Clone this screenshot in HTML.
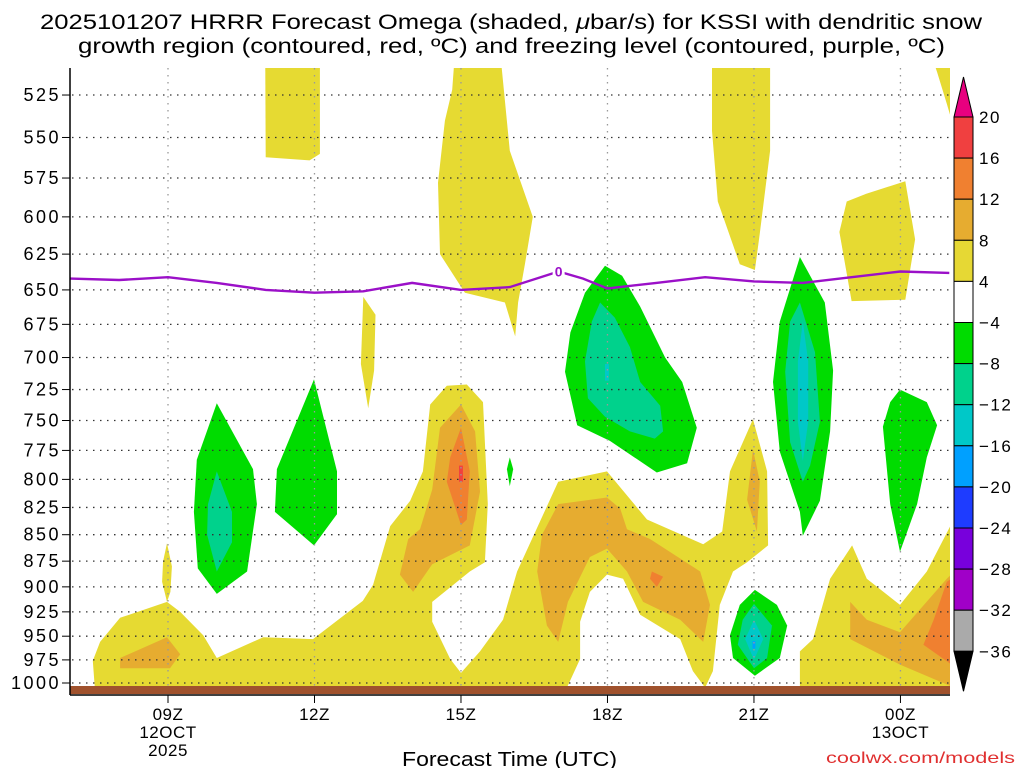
<!DOCTYPE html>
<html><head><meta charset="utf-8"><style>
body{margin:0;background:#fff;width:1024px;height:768px;overflow:hidden}
svg{display:block;font-family:"Liberation Sans","DejaVu Sans",sans-serif}
</style></head><body>
<svg id="chart" width="1024" height="768" viewBox="0 0 1024 768" xmlns="http://www.w3.org/2000/svg">
<text x="40" y="29" font-size="21" textLength="942" lengthAdjust="spacingAndGlyphs">2025101207 HRRR Forecast Omega (shaded, <tspan font-style="italic">μ</tspan>bar/s) for KSSI with dendritic snow</text>
<text x="78" y="53" font-size="21" textLength="867" lengthAdjust="spacingAndGlyphs">growth region (contoured, red, ºC) and freezing level (contoured, purple, ºC)</text>
<defs><clipPath id="plotclip"><rect x="70" y="68" width="880" height="627"/></clipPath></defs>
<g id="fills" clip-path="url(#plotclip)"></g>
<g id="grid"></g>
<g id="lines" clip-path="url(#plotclip)"></g>
<rect x="70" y="686" width="880" height="8" fill="#a0522d"/>
<line x1="70" y1="68" x2="70" y2="695" stroke="#000" stroke-width="1.5"/>
<line x1="70" y1="695" x2="950" y2="695" stroke="#000" stroke-width="1.5"/>
<g id="axes"></g>
<g id="cbar"></g>
<text x="402" y="766" font-size="20" textLength="215" lengthAdjust="spacingAndGlyphs">Forecast Time (UTC)</text>
<text x="826" y="763" font-size="16" textLength="189" lengthAdjust="spacingAndGlyphs" fill="#e03030">coolwx.com/models</text>
</svg>
<script>
const pressureTicks=[525,550,575,600,625,650,675,700,725,750,775,800,825,850,875,900,925,950,975,1000];
const hourTicks=[9,12,15,18,21,24];
const hourLabels=["09Z","12Z","15Z","18Z","21Z","00Z"];
const hourSub=["12OCT","","","","","13OCT"];
const hourSub2=["2025","","","","",""];
const cbarLevels=[20,16,12,8,4,-4,-8,-12,-16,-20,-24,-28,-32,-36];
const cbarColors=["#f04040","#f08030","#e6ac30","#e6d834","#ffffff","#00dc00","#00d28c","#00c8c8","#00a0ff","#1e3cff","#7800dc","#a000c8","#aaaaaa"];
const yellowA=[[7.5,1005],[7.46,976],[7.61,956],[8.02,931],[8.98,915],[9.25,925],[9.72,949],[10.0,973],[10.95,951],[11.97,953],[12.99,914],[13.2,898],[13.55,842],[13.96,819],[14.22,793],[14.37,737],[14.71,722],[15.12,721],[15.45,735],[15.55,822],[15.49,876],[15.18,885],[14.41,915],[14.41,935],[14.78,974],[15.0,989],[15.39,966],[15.86,933],[16.15,885],[16.99,802],[17.99,793],[18.81,836],[19.96,859],[20.35,847],[20.51,793],[20.98,749],[21.27,793],[21.29,860],[20.86,876],[20.57,885],[20.3,918],[20.16,987],[20.0,1005],[19.75,987],[19.49,953],[18.67,928],[18.32,892],[17.99,888],[17.64,905],[17.44,935],[17.44,974],[17.17,1005]];
const yellowB=[[21.94,1005],[21.94,966],[22.21,953],[22.56,892],[23.01,860],[23.31,892],[23.99,918],[24.54,885],[25.1,835],[25.1,1005]];
const yellowSpike=[[8.98,858],[9.08,880],[9.05,905],[8.98,915],[8.88,895],[8.9,875]];
const yellow1=[[10.99,500],[12.11,500],[12.11,560],[11.9,564],[11.0,562]];
const yellow2=[[14.88,500],[15.8,500],[16.0,558],[16.47,600],[16.31,632],[16.17,659],[16.11,684],[15.9,659],[15.08,652],[14.57,625],[14.53,578],[14.67,540],[14.82,522]];
const yellow3=[[20.14,500],[21.33,500],[21.33,558],[21.12,611],[21.02,636],[20.71,632],[20.26,590],[20.14,546]];
const yellow4=[[24.6,500],[25.1,500],[25.1,545],[24.95,530],[24.75,512]];
const yellow5=[[22.9,590],[23.3,585],[24.1,577],[24.3,615],[24.1,657],[23.0,658],[22.75,610]];
const yellow6=[[13.0,655],[13.25,668],[13.22,710],[13.1,740],[12.95,705]];
const orange1=[[8.02,973],[8.98,951],[9.25,969],[9.04,984],[8.02,984]];
const orange2=[[15.0,737],[15.29,759],[15.39,811],[15.18,860],[14.41,878],[14.02,905],[13.75,888],[13.92,854],[14.16,845],[14.41,809],[14.57,756]];
const orange3=[[16.99,822],[17.99,816],[18.26,826],[18.4,845],[18.87,854],[19.9,885],[20.1,918],[19.96,956],[19.49,933],[18.73,915],[18.4,885],[17.99,863],[17.64,871],[17.19,915],[16.99,956],[16.76,939],[16.56,885],[16.66,850]];
const orange4=[[20.98,774],[21.12,802],[21.06,847],[20.86,818]];
const orange5=[[22.97,915],[23.31,933],[23.99,946],[24.95,892],[25.1,885],[25.1,1005],[23.99,980],[22.97,953]];
const dark1=[[15.0,756],[15.18,793],[15.12,836],[15.0,841],[14.71,802],[14.78,781]];
const dark2=[[18.91,885],[19.14,890],[19.01,900],[18.87,892]];
const dark3=[[24.95,895],[25.1,890],[25.1,982],[24.47,959],[24.68,933]];
const red1=[[14.96,788],[15.04,788],[15.04,802],[14.96,802]];
const green1=[[10.0,736],[10.74,791],[10.82,822],[10.62,885],[10.0,907],[9.61,882],[9.53,829],[9.59,783]];
const teal1=[[10.0,793],[10.31,829],[10.31,857],[10.0,885],[9.8,850],[9.82,822]];
const green2=[[11.99,717],[12.46,793],[12.46,831],[11.99,860],[11.19,829],[11.23,791]];
const green3=[[16.0,781],[16.07,791],[16.0,806],[15.94,791]];
const green4=[[17.95,633],[18.3,640],[18.67,662],[19.18,700],[19.53,719],[19.83,756],[19.63,786],[19.01,794],[18.05,767],[17.38,754],[17.13,711],[17.24,681],[17.54,652]];
const teal4=[[17.85,659],[18.15,670],[18.46,692],[18.67,719],[19.08,738],[19.14,759],[18.97,765],[18.46,759],[17.95,747],[17.6,732],[17.54,703],[17.68,673]];
const cyan4=[[17.95,705],[18.03,705],[18.03,718],[17.95,718]];
const green5=[[21.94,627],[22.45,659],[22.62,710],[22.56,759],[22.35,819],[22.0,851],[21.94,829],[21.53,776],[21.39,719],[21.53,673]];
const teal5=[[21.94,659],[22.25,696],[22.35,751],[22.15,788],[22.0,802],[21.74,768],[21.64,711],[21.74,673]];
const cyan5=[[22.0,673],[22.11,703],[22.11,751],[22.0,784],[21.9,751],[21.9,703]];
const green6=[[23.99,725],[24.54,735],[24.75,754],[24.54,781],[24.34,822],[23.99,866],[23.79,822],[23.64,755],[23.79,735]];
const green7=[[21.02,903],[21.47,918],[21.68,939],[21.53,973],[21.02,992],[20.57,973],[20.51,949],[20.71,918]];
const teal7=[[21.0,917],[21.37,939],[21.27,973],[21.0,984],[20.67,959],[20.77,933]];
const cyan7=[[21.0,933],[21.19,953],[21.0,975],[20.82,953]];
const blue7=[[20.97,955],[21.03,955],[21.03,963],[20.97,963]];
const frzHours=[7,8,9,10,11,12,13,14,15,16,17,17.5,18,19,20,21,22,23,24,25];
const frzPres=[642,643,641,645,650,652,651,645,650,648,637,642,649,645,641,644,645,641,637,638];

{
const NS="http://www.w3.org/2000/svg";
function xS(h){return 168+(h-9)*48.83;}
function yS(p){return 683-912.5*Math.log(1000/p);}
function mk(t,a,parent){const e=document.createElementNS(NS,t);for(const k in a)e.setAttribute(k,a[k]);parent.appendChild(e);return e;}
const fills=document.getElementById('fills');
function poly(pts,color,name){
  const d=pts.map((q,i)=>(i?'L':'M')+xS(q[0]).toFixed(1)+' '+yS(q[1]).toFixed(1)).join(' ')+'Z';
  const e=mk('path',{d:d,fill:color},fills);
  
  
}
const Y="#e6da32",O="#e6ac30",D="#f08030",G="#00dc00",T="#00d28c",C="#00c8c8";
[[yellowA,'yellow-lower-a'],[yellowB,'yellow-lower-b'],[yellowSpike,'yellow-spike'],[yellow1,'yellow-top-1'],[yellow2,'yellow-top-2'],[yellow3,'yellow-top-3'],[yellow4,'yellow-top-4'],[yellow5,'yellow-blob-5'],[yellow6,'yellow-blob-6']].forEach(a=>poly(a[0],Y,a[1]));
[[orange1,'orange-1'],[orange2,'orange-2'],[orange3,'orange-3'],[orange4,'orange-4'],[orange5,'orange-5']].forEach(a=>poly(a[0],O,a[1]));
[[dark1,'darkorange-1'],[dark2,'darkorange-2'],[dark3,'darkorange-3']].forEach(a=>poly(a[0],D,a[1]));
poly(red1,"#f04040",'red-core');
[[green1,'green-1'],[green2,'green-2'],[green3,'green-3'],[green4,'green-4'],[green5,'green-5'],[green6,'green-6'],[green7,'green-7']].forEach(a=>poly(a[0],G,a[1]));
[[teal1,'teal-1'],[teal4,'teal-4'],[teal5,'teal-5'],[teal7,'teal-7']].forEach(a=>poly(a[0],T,a[1]));
[[cyan4,'cyan-4'],[cyan5,'cyan-5'],[cyan7,'cyan-7']].forEach(a=>poly(a[0],C,a[1]));
poly(blue7,"#00a0ff",'blue-core');

const grid=document.getElementById('grid'),axes=document.getElementById('axes');
pressureTicks.forEach(p=>{
  const y=yS(p);
  const l=mk('line',{x1:72,y1:y,x2:950,y2:y,stroke:'#333','stroke-width':1.3,'stroke-dasharray':'1.5 5.5'},grid);
  
  
  const tk=mk('line',{x1:62,y1:y,x2:70,y2:y,stroke:'#000','stroke-width':1},axes);
  
  
  const t=mk('text',{x:61,y:y+6,'font-size':18,'letter-spacing':2.5,'text-anchor':'end'},axes);
  t.textContent=p;
  
  
});
hourTicks.forEach((h,i)=>{
  const x=xS(h);
  const l=mk('line',{x1:x,y1:68,x2:x,y2:686,stroke:'#999','stroke-width':1.3,'stroke-dasharray':'1.5 5.5'},grid);
  
  
  const tk=mk('line',{x1:x,y1:695,x2:x,y2:703,stroke:'#000','stroke-width':1},axes);
  
  
  [[hourLabels[i],720],[hourSub[i],738],[hourSub2[i],756]].forEach(s=>{
    if(!s[0])return;
    const t=mk('text',{x:x,y:s[1],'font-size':17,'letter-spacing':0.5,'text-anchor':'middle'},axes);
    t.textContent=s[0];
    
    
  });
});
const lines=document.getElementById('lines');
const fd=frzHours.map((h,i)=>(i?'L':'M')+xS(h).toFixed(1)+' '+yS(frzPres[i]).toFixed(1)).join(' ');
const fl=mk('path',{d:fd,fill:'none',stroke:'#9b10c8','stroke-width':2.4},lines);


const lx=xS(17),ly=yS(637);
const lb=mk('rect',{x:lx-6,y:ly-9,width:12,height:14,fill:'#fff'},lines);


const lt=mk('text',{x:lx,y:ly+5,'font-size':14,'font-weight':'bold','text-anchor':'middle',fill:'#9b10c8'},lines);
lt.textContent='0';


const cb=document.getElementById('cbar');
const cbTop=117,step=41.1,cx0=954,cw=19;
const tri1=mk('polygon',{points:`${cx0},${cbTop} ${cx0+cw},${cbTop} ${cx0+cw/2},${cbTop-40}`,fill:'#e8007f',stroke:'#000','stroke-width':1},cb);


cbarColors.forEach((c,i)=>{
  const r=mk('rect',{x:cx0,y:cbTop+i*step,width:cw,height:step,fill:c,stroke:'#000','stroke-width':1},cb);
  
  
});
const bot=cbTop+cbarColors.length*step;
const tri2=mk('polygon',{points:`${cx0},${bot} ${cx0+cw},${bot} ${cx0+cw/2},${bot+40}`,fill:'#000',stroke:'#000','stroke-width':1},cb);


cbarLevels.forEach((v,i)=>{
  const t=mk('text',{x:979,y:cbTop+i*step+6,'font-size':17,'letter-spacing':1.5},cb);
  t.textContent=v<0?'\u2212'+(-v):String(v);
  
  
});
}
</script>
</body></html>
